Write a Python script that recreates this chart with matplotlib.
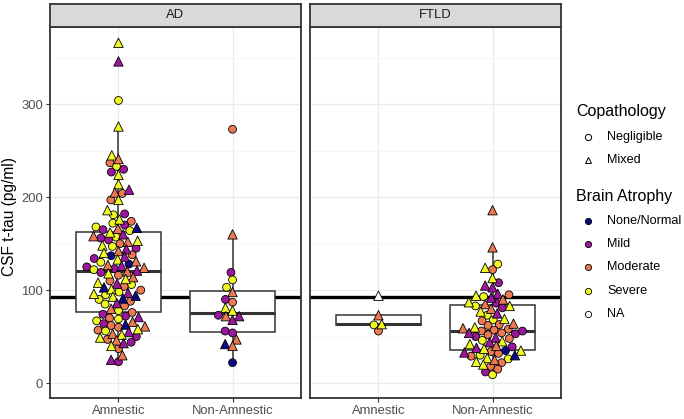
import numpy as np
import matplotlib
matplotlib.use("Agg")
import matplotlib.pyplot as plt

plt.rcParams['font.family'] = ['Liberation Sans', 'DejaVu Sans']

# ---- data ----
panels = ["AD", "FTLD"]
groups = ["Amnestic", "Non-Amnestic"]
cutoff = 93

# copathology: 'o' = Negligible, '^' = Mixed
# atrophy: N = None/Normal, M = Mild, O = Moderate, S = Severe, - = NA
ad_amn_tau = [366, 346, 304, 276, 245, 241, 237, 233, 230, 227, 224, 214, 208, 205,
              204, 197, 197, 186, 182, 181, 176, 174, 172, 170, 168, 167, 166, 165,
              164, 162, 160, 158, 157, 156, 154, 153, 152, 150, 148, 147, 145, 144,
              142, 140, 138, 137, 136, 134, 133, 131, 130, 128, 127, 126, 125, 124, 123,
              122, 121, 120, 119, 118, 116, 114, 112, 110, 108, 107, 106, 104, 103,
              101, 100, 98, 97, 96, 95, 94, 93, 91, 90, 88, 86, 85, 83, 80,
              78, 76, 74, 72, 71, 70, 69, 67, 66, 64, 63, 62, 61, 60, 58, 57, 56,
              55, 53, 52, 50, 49, 47, 46, 44, 43, 40, 37, 30, 25, 23]
ad_amn_copath = ("^^o^^^oooo" "^^^^o^o^oo" "^oooo^^o"
                 "o^^^ooo^^o" "^oo^^^oo^o" "^^oo^^o^o"
                 "o^^o^o^^o^" "^oo^^oo^^o" "^^^oo^oo^"
                 "oooo^ooo^o" "^o^o^oo^^^" "o^o^o^^o^^" "o")
ad_amn_atrophy = ("SMSSSOOSMM" "SSMOOSOSMS" "SOSMSNOM"
                  "SSMOSMMSOO" "SSMMOSONMM" "SOSNOMMOM"
                  "SMOMSOOSOS" "MSONSOSMSS" "NSNSOMSOO"
                  "SOMMMOSSOM" "NOOOSOSMOS" "MSOOMMSOOM" "M")

ad_non_tau = [273, 160, 119, 111, 103, 98, 90, 87, 81, 78, 73, 72, 72, 68, 56, 54, 47, 42, 40, 22]
ad_non_copath = "o^ooo^oo^^o^^^oo^^^o"
ad_non_atrophy = "OOMSSOMOSSMOMMMMONON"

ftld_amn_tau = [94, 73, 63.4, 62.6, 56]
ftld_amn_copath = "^^^oo"
ftld_amn_atrophy = "-OSSO"

ftld_non_tau = [186, 146, 128, 124, 122, 113, 108, 105, 103, 96, 95, 94, 93, 92, 90, 87, 86, 85,
                83, 83, 81, 80, 77, 75, 73, 69, 68, 67, 64, 63, 62, 60, 59, 58, 57,
                56, 56, 54, 54, 53, 52, 50, 49, 48, 46, 45, 44, 42, 40, 39, 38, 37,
                35, 35, 34, 33, 32, 30, 30, 29, 27, 26, 25, 23, 22, 20, 18, 15, 12, 9]
ftld_non_copath = ("^^o^o^o^^" "^o^o^^^o^"
                   "o^o^^^o^oo" "^oo^^oo"
                   "ooo^ooo^oo" "^^^^o^^"
                   "o^o^oo^o^o" "^^o^oooo")
ftld_non_atrophy = ("OOSSOSMMM" "MOSSMOSMO"
                    "SSMOSMSSSO" "OOOSOOO"
                    "OMOMMOMMOS" "SMSOMMS"
                    "NSOMOSNOSS" "OSOSOOMS")

data = {
    ("AD", "Amnestic"): (ad_amn_tau, ad_amn_copath, ad_amn_atrophy),
    ("AD", "Non-Amnestic"): (ad_non_tau, ad_non_copath, ad_non_atrophy),
    ("FTLD", "Amnestic"): (ftld_amn_tau, ftld_amn_copath, ftld_amn_atrophy),
    ("FTLD", "Non-Amnestic"): (ftld_non_tau, ftld_non_copath, ftld_non_atrophy),
}

atrophy_levels = ["None/Normal", "Mild", "Moderate", "Severe", "NA"]
atrophy_codes = ["N", "M", "O", "S", "-"]
atrophy_colors = ["#0D0887", "#9C179E", "#ED7953", "#F0F921", "#FFFFFF"]
copath_levels = ["Negligible", "Mixed"]
copath_codes = ["o", "^"]

color_of = dict(zip(atrophy_codes, atrophy_colors))

# ---- layout (pixels of a 684x419 figure) ----
W, H = 684, 419
px_x = 251 / 2.2          # pixels per category unit
px_y = (398 - 27) / (383 + 16)  # pixels per pg/ml
dot = 7.6                 # swarm spacing in pixels


def swarm(vals, d):
    """simple beeswarm: returns x offsets in pixels"""
    vals = np.asarray(vals, float) * px_y
    xs = np.zeros(len(vals))
    placed = []
    for i in np.argsort(vals, kind="stable"):
        y = vals[i]
        near = [(px, py) for px, py in placed if abs(py - y) < d]
        cands = [0.0]
        for px, py in near:
            dx = np.sqrt(d * d - (py - y) ** 2)
            cands += [px + dx, px - dx]
        cands.sort(key=lambda c: (abs(c), c))
        for c in cands:
            if all((c - px) ** 2 + (y - py) ** 2 >= d * d - 1e-6 for px, py in near):
                xs[i] = c
                break
        placed.append((xs[i], y))
    return xs


fig = plt.figure(figsize=(W / 100, H / 100), dpi=100)
grey20 = "#333333"

for k, panel in enumerate(panels):
    left = (50 + k * 260) / W
    ax = fig.add_axes([left, 1 - 398 / H, 251 / W, (398 - 27) / H])
    ax.grid(which="major", color="#EBEBEB", lw=0.9)
    ax.grid(which="minor", axis="y", color="#F3F3F3", lw=0.5)
    ax.set_axisbelow(True)

    ax.axhline(cutoff, color="black", lw=2.4, zorder=2)

    for j, g in enumerate(groups):
        tau, cop, atr = data[(panel, g)]
        pos = j + 1
        ax.boxplot([tau], positions=[pos], widths=0.75, showfliers=False, showcaps=False,
                   patch_artist=True, zorder=3,
                   boxprops=dict(facecolor="white", edgecolor=grey20, lw=1.1),
                   medianprops=dict(color=grey20, lw=2.2),
                   whiskerprops=dict(color=grey20, lw=1.1))
        offs = swarm(tau, dot) / px_x
        tau = np.asarray(tau, float)
        for code, mk, sz in [("o", "o", 32), ("^", "^", 46)]:
            idx = [i for i, c in enumerate(cop) if c == code]
            if not idx:
                continue
            ax.scatter(pos + offs[idx], tau[idx], marker=mk, s=sz,
                       c=[color_of[atr[i]] for i in idx],
                       edgecolors="black", linewidths=0.6, zorder=4)

    ax.set_xlim(0.4, 2.6)
    ax.set_ylim(-16, 383)
    ax.set_yticks([0, 100, 200, 300])
    ax.set_yticks([50, 150, 250, 350], minor=True)
    ax.set_xticks([1, 2])
    ax.set_xticklabels(groups)
    ax.tick_params(which="minor", left=False)
    ax.tick_params(colors=grey20, labelcolor="#4D4D4D", labelsize=9.4, length=3, width=0.8, pad=2)
    if k == 1:
        ax.tick_params(axis="y", left=False, labelleft=False)
    for s in ax.spines.values():
        s.set_color(grey20)
        s.set_linewidth(1.3)

    # strip
    sx = fig.add_axes([left, 1 - 27 / H, 251 / W, 23 / H])
    sx.set_facecolor("#D9D9D9")
    sx.set_xticks([])
    sx.set_yticks([])
    for s in sx.spines.values():
        s.set_color(grey20)
        s.set_linewidth(1.3)
    sx.text(0.5, 0.5, panel, ha="center", va="center", fontsize=9.4, color="#1A1A1A",
            transform=sx.transAxes)

fig.text(10 / W, 1 - 216 / H, "CSF t-tau (pg/ml)", rotation=90, ha="center", va="center",
         fontsize=11.2, color="black")

# ---- legends ----
lg = fig.add_axes([0, 0, 1, 1], zorder=-1)
lg.set_xlim(0, W)
lg.set_ylim(H, 0)
lg.axis("off")

lg.text(576, 111, "Copathology", fontsize=11.5, va="center", ha="left")
for i, (lab, mk) in enumerate(zip(copath_levels, copath_codes)):
    y = 137 + i * 23
    lg.plot(588, y, marker=mk, ms=4.5 if mk == "o" else 5, mfc="white", mec="black", mew=0.7)
    lg.text(607, y, lab, fontsize=9.1, va="center", ha="left")

lg.text(576, 196, "Brain Atrophy", fontsize=11.5, va="center", ha="left")
for i, (lab, col) in enumerate(zip(atrophy_levels, atrophy_colors)):
    y = 221 + i * 23.2
    lg.plot(588, y, marker="o", ms=4.5, mfc=col, mec="black", mew=0.6)
    lg.text(607, y, lab, fontsize=9.1, va="center", ha="left")

fig.savefig("out.png", dpi=100)
